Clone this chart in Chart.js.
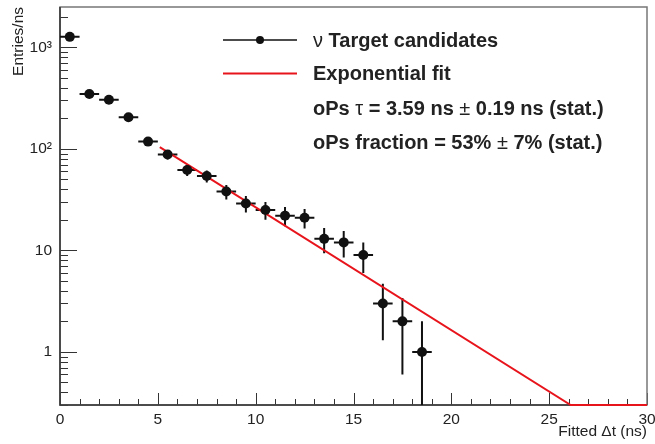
<!DOCTYPE html>
<html>
<head>
<meta charset="utf-8">
<script src="https://cdn.jsdelivr.net/npm/chart.js@4.4.0/dist/chart.umd.min.js"></script>
<style>
  html, body { margin: 0; padding: 0; background: #fff; }
</style>
</head>
<body>
<canvas id="myChart" width="655" height="444"></canvas>
<script>
// histogram of fitted delta t, 1 ns bins
const binCenters = [0.5, 1.5, 2.5, 3.5, 4.5, 5.5, 6.5, 7.5, 8.5, 9.5, 10.5, 11.5, 12.5, 13.5, 14.5, 15.5, 16.5, 17.5, 18.5];
const entries = [1270, 348, 305, 205, 118, 88, 62, 54, 38, 29, 25, 22, 21, 13, 12, 9, 3, 2, 1];
const errors = [36, 19, 17, 14, 11, 9.4, 7.9, 7.3, 6.2, 5.4, 5.0, 4.7, 4.6, 3.6, 3.5, 3.0, 1.7, 1.4, 1.0];
const binHalfWidth = 0.5;

// exponential fit (straight on the log axis), ends on the axis floor
const fitX = [5.1, 26.1, 30];
const fitY = [104, 0.3, 0.3];

const yLabelValues = [1, 10, 100, 1000];
const yLabelTexts = ['1', '10', '10\u00b2', '10\u00b3'];

const FONT = "'Liberation Sans', Arial, Helvetica, sans-serif";
const RED = '#e8141c';
const INK = '#111';

const legendRows = [
  { symbol: 'marker', parts: [['\u03bd ', false], ['Target candidates', true]] },
  { symbol: 'line', parts: [['Exponential fit', true]] },
  { symbol: null, parts: [['oPs ', true], ['\u03c4', false], [' = 3.59 ns ', true], ['\u00b1', false], [' 0.19 ns (stat.)', true]] },
  { symbol: null, parts: [['oPs fraction = 53% ', true], ['\u00b1', false], [' 7% (stat.)', true]] },
];

function isDecade(v) {
  const l = Math.log10(v);
  return Math.abs(l - Math.round(l)) < 1e-9;
}

// frame + ROOT-style inward ticks + error bars
const frameTicks = {
  id: 'frameTicks',
  beforeDatasetsDraw(chart) {
    const { ctx, chartArea: a, scales: { x, y } } = chart;
    ctx.save();
    ctx.strokeStyle = '#333';
    ctx.lineWidth = 1;
    x.ticks.forEach(t => {
      const px = Math.round(x.getPixelForValue(t.value)) + 0.5;
      const len = t.value % 5 === 0 ? 12 : 6;
      ctx.beginPath();
      ctx.moveTo(px, a.bottom);
      ctx.lineTo(px, a.bottom - len);
      ctx.stroke();
    });
    y.ticks.forEach(t => {
      const py = Math.round(y.getPixelForValue(t.value)) + 0.5;
      const len = isDecade(t.value) ? 17 : 8;
      ctx.beginPath();
      ctx.moveTo(a.left, py);
      ctx.lineTo(a.left + len, py);
      ctx.stroke();
    });
    ctx.lineWidth = 1.5;
    ctx.strokeStyle = '#777';
    ctx.strokeRect(a.left, a.top, a.right - a.left, a.bottom - a.top);
    ctx.strokeStyle = '#333';
    ctx.beginPath();
    ctx.moveTo(a.left, a.top);
    ctx.lineTo(a.left, a.bottom);
    ctx.lineTo(a.right, a.bottom);
    ctx.stroke();

    ctx.beginPath();
    ctx.rect(a.left, a.top, a.right - a.left, a.bottom - a.top);
    ctx.clip();
    ctx.strokeStyle = INK;
    ctx.lineWidth = 2;
    binCenters.forEach((c, i) => {
      const v = entries[i];
      const py = y.getPixelForValue(v);
      const px = x.getPixelForValue(c);
      const lo = Math.max(v - errors[i], y.min);
      ctx.beginPath();
      ctx.moveTo(x.getPixelForValue(c - binHalfWidth), py);
      ctx.lineTo(x.getPixelForValue(c + binHalfWidth), py);
      ctx.moveTo(px, y.getPixelForValue(v + errors[i]));
      ctx.lineTo(px, y.getPixelForValue(lo));
      ctx.stroke();
    });
    ctx.restore();
  }
};

const legendBox = {
  id: 'legendBox',
  afterDraw(chart) {
    const ctx = chart.ctx;
    const symX0 = 223, symX1 = 297, textX = 313;
    const rowY = [40, 73.5, 108, 142.5];
    ctx.save();
    ctx.textBaseline = 'middle';
    legendRows.forEach((row, i) => {
      const yy = rowY[i];
      if (row.symbol === 'marker') {
        ctx.strokeStyle = INK;
        ctx.lineWidth = 1.5;
        ctx.beginPath();
        ctx.moveTo(symX0, yy);
        ctx.lineTo(symX1, yy);
        ctx.stroke();
        ctx.fillStyle = INK;
        ctx.beginPath();
        ctx.arc((symX0 + symX1) / 2, yy, 4, 0, Math.PI * 2);
        ctx.fill();
      } else if (row.symbol === 'line') {
        ctx.strokeStyle = RED;
        ctx.lineWidth = 2;
        ctx.beginPath();
        ctx.moveTo(symX0, yy);
        ctx.lineTo(symX1, yy);
        ctx.stroke();
      }
      let cx = textX;
      ctx.fillStyle = '#222';
      row.parts.forEach(([txt, bold]) => {
        ctx.font = (bold ? 'bold ' : '') + '20px ' + FONT;
        ctx.fillText(txt, cx, yy + 1);
        cx += ctx.measureText(txt).width;
      });
    });
    ctx.restore();
  }
};

const ctx = document.getElementById('myChart').getContext('2d');
const myChart = new Chart(ctx, {
  type: 'scatter',
  data: {
    datasets: [
      {
        label: 'Target candidates',
        data: binCenters.map((c, i) => ({ x: c, y: entries[i] })),
        pointRadius: 5,
        pointHoverRadius: 5,
        pointBackgroundColor: INK,
        pointBorderColor: INK,
        borderWidth: 0,
        showLine: false,
        order: 0,
      },
      {
        label: 'Exponential fit',
        data: fitX.map((v, i) => ({ x: v, y: fitY[i] })),
        showLine: true,
        borderColor: RED,
        borderWidth: 2,
        pointRadius: 0,
        fill: false,
        clip: false,
        order: 1,
      },
    ],
  },
  options: {
    responsive: false,
    animation: false,
    devicePixelRatio: 1,
    layout: { autoPadding: false, padding: { top: 7, right: 8, left: 0, bottom: 0 } },
    plugins: {
      legend: { display: false },
      tooltip: { enabled: false },
    },
    scales: {
      x: {
        type: 'linear',
        min: 0,
        max: 30,
        grid: { display: false, drawTicks: false },
        border: { display: false },
        ticks: {
          stepSize: 1,
          autoSkip: false,
          maxRotation: 0,
          padding: 5,
          color: '#222',
          font: { family: FONT, size: 15.5 },
          callback: v => (v % 5 === 0 ? String(v) : ''),
        },
        title: {
          display: true,
          text: 'Fitted \u0394t (ns)',
          align: 'end',
          color: '#222',
          font: { family: FONT, size: 15.5 },
          padding: { top: 0, bottom: 3 },
        },
        afterFit: s => {
          s.height = 39;
          s.paddingLeft = 0;
          s.paddingRight = 0;
        },
      },
      y: {
        type: 'logarithmic',
        min: 0.3,
        max: 2500,
        grid: { display: false, drawTicks: false },
        border: { display: false },
        afterBuildTicks: s => {
          s.ticks = s.ticks.filter(t => {
            const e = Math.floor(Math.log10(t.value) + 1e-9);
            const m = t.value / Math.pow(10, e);
            return Math.abs(m - Math.round(m)) < 1e-6;
          });
        },
        ticks: {
          autoSkip: false,
          padding: 8,
          color: '#222',
          font: { family: FONT, size: 15.5 },
          callback: v => {
            const i = yLabelValues.findIndex(d => Math.abs(d - v) < 1e-6 * d);
            return i >= 0 ? yLabelTexts[i] : '';
          },
        },
        title: {
          display: true,
          text: 'Entries/ns',
          align: 'end',
          color: '#222',
          font: { family: FONT, size: 15.5 },
          padding: { top: 9, bottom: 0 },
        },
        afterFit: s => {
          s.width = 60;
          s.paddingTop = 0;
          s.paddingBottom = 0;
        },
      },
    },
  },
  plugins: [frameTicks, legendBox],
});
</script>
</body>
</html>
